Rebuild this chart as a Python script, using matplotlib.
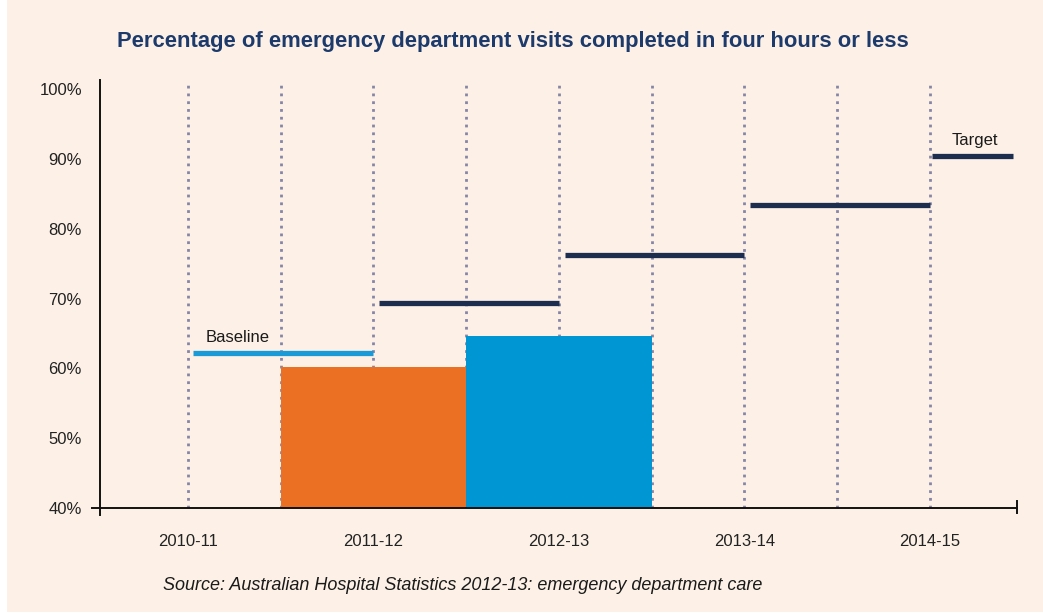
import matplotlib
matplotlib.use("Agg")
import matplotlib.pyplot as plt
from matplotlib.patches import Rectangle
from matplotlib import font_manager

years = ["2010-11", "2011-12", "2012-13", "2013-14", "2014-15"]
bar_years = ["2011-12", "2012-13"]
bar_values = [60.2, 64.7]
bar_colors = ["#ec7023", "#0096d3"]
target_values = [62.2, 69.3, 76.3, 83.4, 90.4]  # baseline then targets
target_colors = ["#1a9ad6", "#1c2d50", "#1c2d50", "#1c2d50", "#1c2d50"]
yticks = [40, 50, 60, 70, 80, 90, 100]
ytick_labels = ["40%", "50%", "60%", "70%", "80%", "90%", "100%"]

names = {f.name for f in font_manager.fontManager.ttflist}
narrow = "Liberation Sans Narrow" if "Liberation Sans Narrow" in names else "Liberation Sans"
plt.rcParams['font.family'] = [narrow, "DejaVu Sans"]

W, H = 1043, 613
fig = plt.figure(figsize=(W / 100, H / 100), dpi=100, facecolor="white")
bg = "#fdf1e7"
fig.patches.append(Rectangle((7 / W, 1 / H), 1 - 7 / W, 1 - 1 / H, transform=fig.transFigure,
                             facecolor=bg, edgecolor="none", zorder=-10))

left, right = 100 / W, 1017 / W
bottom, top = (H - 508) / H, (H - 80) / H
ax = fig.add_axes([left, bottom, right - left, top - bottom])
ax.set_facecolor("none")

xmin, xmax = -0.474, 4.469
ax.set_xlim(xmin, xmax)
ax.set_ylim(40, 101.29)

xpos = list(range(len(years)))

# dotted vertical lines at categories and midpoints
for k in range(2 * len(years) - 1):
    x = k / 2
    ax.plot([x, x], [40, 100.8], linestyle=(0, (1, 1.8)), color="#8585a5", lw=2.0, zorder=1)

# bars
for yr, v, c in zip(bar_years, bar_values, bar_colors):
    i = years.index(yr)
    ax.bar(i, v - 40, bottom=40, width=1.0, color=c, zorder=2, edgecolor="none")

# target lines
for i, (v, c) in enumerate(zip(target_values, target_colors)):
    x0 = i + 0.03 if i < len(years) - 1 else i + 0.012
    x1 = i + 1.0 if i < len(years) - 1 else xmax - 0.02
    ax.plot([x0, x1], [v, v], color=c, lw=3.8, solid_capstyle="butt", zorder=3)

ax.text(0.27, target_values[0] + 1.2, "Baseline", ha="center", va="bottom", fontsize=12, color="#1a1a1a")
ax.text(4.24, target_values[-1] + 1.2, "Target", ha="center", va="bottom", fontsize=12, color="#1a1a1a")

# axes styling
for s in ["top", "right"]:
    ax.spines[s].set_visible(False)
for s in ["left", "bottom"]:
    ax.spines[s].set_color("#111111")
    ax.spines[s].set_linewidth(1.4)

ax.set_yticks(yticks)
ax.set_yticklabels(ytick_labels, fontsize=12, color="#222222")
ax.tick_params(axis="y", length=0, pad=13)
ax.set_xticks(xpos)
ax.set_xticklabels(years, fontsize=12, color="#222222")
ax.tick_params(axis="x", length=0, pad=19)

# end ticks
ax.plot([xmin - 0.045, xmin], [40, 40], color="#111111", lw=1.4, clip_on=False)
ax.plot([xmin, xmin], [40, 39.0], color="#111111", lw=1.4, clip_on=False)
ax.plot([xmax, xmax], [41.0, 39.3], color="#111111", lw=1.4, clip_on=False)

fig.text(117 / W, 1 - 42 / H, "Percentage of emergency department visits completed in four hours or less",
         ha="left", va="center", fontsize=15.8, fontweight="bold", color="#1c3a6b")
fig.text(163 / W, 1 - 585 / H, "Source: Australian Hospital Statistics 2012-13: emergency department care",
         ha="left", va="center", fontsize=13, style="italic", color="#1a1a1a")

fig.savefig("out.png", dpi=100, facecolor="white")
